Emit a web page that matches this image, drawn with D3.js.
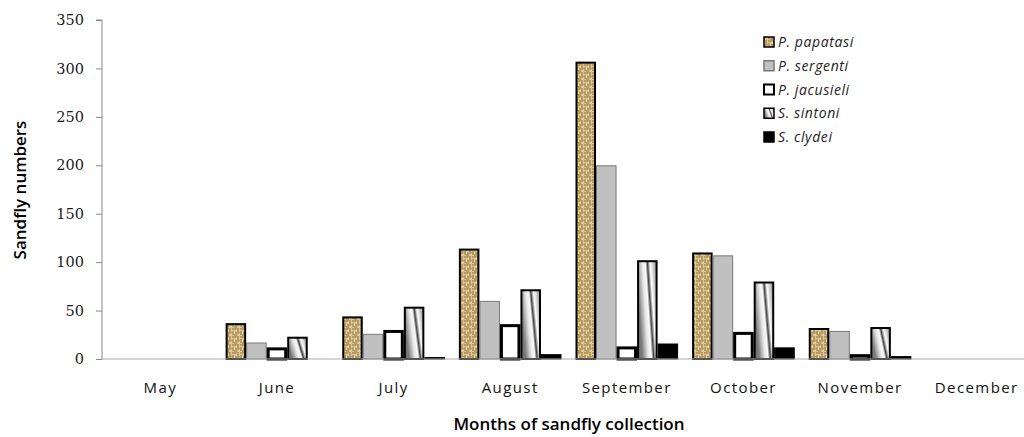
<!DOCTYPE html>
<html><head><meta charset="utf-8">
<script src="https://cdn.jsdelivr.net/npm/d3@7"></script>
<style>body{margin:0;background:#fff}</style>
</head><body>
<svg id="c" width="1024" height="437"></svg>
<script>
const months = ["May","June","July","August","September","October","November","December"];
const species = ["P. papatasi","P. sergenti","P. jacusieli","S. sintoni","S. clydei"];
const papatasi = [0,37,44,114,307,110,32,0];
const sergenti = [0,17,26,60,200,107,29,0];
const jacusieli = [0,12,30,36,13,28,5,0];
const sintoni  = [0,23,54,72,102,80,33,0];
const clydei   = [0,0,2,5,16,12,3,0];
const yTicks = [0,50,100,150,200,250,300,350];
const seriesVals = [papatasi,sergenti,jacusieli,sintoni,clydei];

const svg = d3.select("#c");
const defs = svg.append("defs");
// texture pattern
const pt = defs.append("pattern").attr("id","tex").attr("patternUnits","userSpaceOnUse").attr("width",8).attr("height",8);
pt.append("rect").attr("width",8).attr("height",8).attr("fill","#ddc793");
pt.append("path").attr("d","M0 1h5M6 0v4M1 3v4M3 5h5M2 7h3").attr("stroke","#8e6d36").attr("stroke-width",1).attr("fill","none");
pt.append("path").attr("d","M4 2h1M7 6h1M2 5h1").attr("stroke","#f3e6bd").attr("stroke-width",1);
const lg = defs.append("linearGradient").attr("id","grad").attr("x1","0").attr("y1","0.35").attr("x2","1").attr("y2","0");
[[0,"#777"],[0.3,"#e8e8e8"],[0.45,"#fafafa"],[0.55,"#444"],[0.68,"#fff"],[1,"#8a8a8a"]].forEach(s=>lg.append("stop").attr("offset",s[0]).attr("stop-color",s[1]));

const styles = [
  {fill:"url(#tex)",stroke:"#000",sw:2},
  {fill:"#c0c0c0",stroke:"#777",sw:1},
  {fill:"#fff",stroke:"#000",sw:3},
  {fill:"url(#grad)",stroke:"#000",sw:2},
  {fill:"#000",stroke:"#000",sw:1}
];

const x0 = 102, x1 = 1035, yTop = 20, yBot = 359;
const x = d3.scaleBand().domain(months).range([x0,x1]).paddingInner(0.12).paddingOuter(0.06);
const xs = d3.scaleBand().domain(species).range([0,x.bandwidth()]);
const y = d3.scaleLinear().domain([0,350]).range([yBot,yTop]);

// bars
species.forEach((sp,i)=>{
  const st = styles[i];
  svg.append("g").selectAll("rect").data(months.map((m,j)=>({m,v:seriesVals[i][j]})).filter(d=>d.v>0))
    .join("rect")
    .attr("x",d=>x(d.m)+xs(sp)+st.sw/2)
    .attr("y",d=>y(d.v)+st.sw/2)
    .attr("width",xs.bandwidth()-st.sw)
    .attr("height",d=>Math.max(0,y(0)-y(d.v)-st.sw/2))
    .attr("fill",st.fill).attr("stroke",st.stroke).attr("stroke-width",st.sw);
});

// y axis
const ya = svg.append("g").attr("transform",`translate(${x0},0)`).call(d3.axisLeft(y).tickValues(yTicks).tickSize(6).tickPadding(12));
ya.select(".domain").attr("stroke","#888").attr("d",`M-6,${yTop}H0V${yBot}`);
ya.selectAll(".tick line").attr("stroke","#888");
ya.selectAll("text").attr("font-family","'DejaVu Serif', serif").attr("font-size",14.5).attr("fill","#1a1a1a");

// x axis
const xa = svg.append("g").attr("transform",`translate(0,${yBot})`).call(d3.axisBottom(x).tickSize(0).tickPadding(23));
xa.select(".domain").attr("stroke","#aaa").attr("d",`M${x0},0H${x1}`);
xa.selectAll("text").attr("font-family","'Open Sans', sans-serif").attr("font-size",15).attr("letter-spacing",1.4).attr("fill","#111");

// axis titles
svg.append("text").attr("transform","translate(26,190) rotate(-90)").attr("text-anchor","middle")
  .attr("font-family","'Open Sans', sans-serif").attr("font-size",17).attr("font-weight",600).text("Sandfly numbers");
svg.append("text").attr("x",569).attr("y",430).attr("text-anchor","middle")
  .attr("font-family","'Open Sans', sans-serif").attr("font-size",17).attr("font-weight",600).text("Months of sandfly collection");

// legend
const leg = svg.append("g");
species.forEach((sp,i)=>{
  const st = styles[i];
  const ly = 42 + i*23.75;
  leg.append("rect").attr("x",764).attr("y",ly-5).attr("width",10).attr("height",10)
    .attr("fill",st.fill).attr("stroke",i==1?"#777":"#000").attr("stroke-width",i==2?2:1.5);
  leg.append("text").attr("x",778).attr("y",ly+5).attr("font-family","'Open Sans', sans-serif")
    .attr("font-style","italic").attr("font-size",14).attr("letter-spacing",0.6).attr("fill","#222").text(sp);
});
</script>
</body></html>
